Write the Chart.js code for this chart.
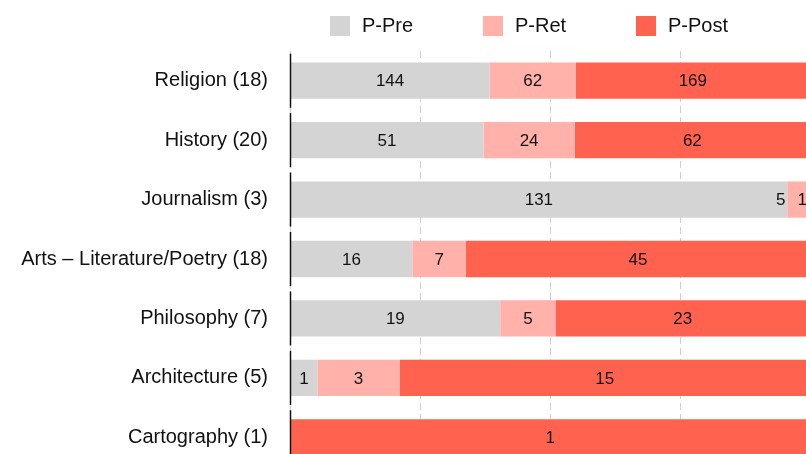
<!DOCTYPE html>
<html>
<head>
<meta charset="utf-8">
<script src="https://cdn.jsdelivr.net/npm/chart.js@4"></script>
<style>
  html, body { margin: 0; padding: 0; background: #fff; overflow: hidden; }
  #wrap { position: relative; width: 820px; height: 501px; }
  #legend { position: absolute; left: 330px; top: 14px; display: flex; font-family: "Liberation Sans", Arial, Helvetica, sans-serif; font-size: 20px; color: #111; }
  .item { display: flex; align-items: center; width: 153px; }
  .box { width: 20px; height: 20px; margin-right: 12px; }
</style>
</head>
<body>
<div id="wrap">
  <canvas id="c" width="820" height="501"></canvas>
  <div id="legend"></div>
</div>
<script>
const categories = ['Religion (18)', 'History (20)', 'Journalism (3)', 'Arts \u2013 Literature/Poetry (18)', 'Philosophy (7)', 'Architecture (5)', 'Cartography (1)'];
const seriesNames = ['P-Pre', 'P-Ret', 'P-Post'];
const pPre  = [144, 51, 131, 16, 19, 1, 0];
const pRet  = [62, 24, 5, 7, 5, 3, 0];
const pPost = [169, 62, 1, 45, 23, 15, 1];
const colors = ['#d4d4d4', '#ffb1aa', '#ff6350'];
const xTicks = [0, 25, 50, 75, 100];

const FONT = '"Liberation Sans", Arial, Helvetica, sans-serif';
const counts = [pPre, pRet, pPost];
const totals = categories.map((_, i) => counts.reduce((s, arr) => s + arr[i], 0));
const shares = counts.map(arr => arr.map((v, i) => v / totals[i] * 100));

// HTML legend
const lg = document.getElementById('legend');
seriesNames.forEach((n, k) => {
  const it = document.createElement('div'); it.className = 'item';
  const b = document.createElement('div'); b.className = 'box'; b.style.background = colors[k];
  const t = document.createElement('span'); t.textContent = n;
  it.appendChild(b); it.appendChild(t); lg.appendChild(it);
});

const axisSegments = {
  id: 'axisSegments',
  afterDatasetsDraw(chart) {
    const ctx = chart.ctx, y = chart.scales.y, x0 = chart.chartArea.left;
    const step = y.getPixelForValue(1) - y.getPixelForValue(0);
    ctx.save();
    ctx.strokeStyle = '#111'; ctx.lineWidth = 1.5;
    categories.forEach((_, i) => {
      const c = y.getPixelForValue(i);
      ctx.beginPath();
      ctx.moveTo(x0 + 0.5, c - step * 0.455);
      ctx.lineTo(x0 + 0.5, c + step * 0.455);
      ctx.stroke();
    });
    ctx.restore();
  }
};

const segLabels = {
  id: 'segLabels',
  afterDatasetsDraw(chart) {
    const ctx = chart.ctx;
    ctx.save();
    ctx.font = '17px ' + FONT;
    ctx.fillStyle = '#111';
    ctx.textBaseline = 'middle';
    ctx.textAlign = 'left';
    const visibleRight = 807;
    categories.forEach((_, i) => {
      const labs = [];
      counts.forEach((arr, k) => {
        if (!arr[i]) return;
        const el = chart.getDatasetMeta(k).data[i];
        const txt = String(arr[i]);
        const w = ctx.measureText(txt).width;
        const cx = (el.x + el.base) / 2;
        labs.push({ txt, w, left: cx - w / 2, y: el.y });
      });
      for (let j = labs.length - 1; j >= 0; j--) {
        const L = labs[j];
        const limit = (j === labs.length - 1) ? visibleRight : labs[j + 1].left - 12;
        if (L.left + L.w > limit) L.left = limit - L.w;
      }
      labs.forEach(L => ctx.fillText(L.txt, L.left, L.y + 1));
    });
    ctx.restore();
  }
};

new Chart(document.getElementById('c'), {
  type: 'bar',
  data: {
    labels: categories,
    datasets: seriesNames.map((n, k) => ({
      label: n,
      data: shares[k],
      backgroundColor: colors[k],
      borderWidth: 0,
      barPercentage: 0.61,
      categoryPercentage: 1
    }))
  },
  options: {
    indexAxis: 'y',
    responsive: false,
    animation: false,
    layout: { padding: { left: 0, right: 10, top: 51, bottom: 15 } },
    plugins: { legend: { display: false }, tooltip: { enabled: false } },
    scales: {
      x: {
        stacked: true, min: 0, max: 100,
        afterBuildTicks: s => { s.ticks = xTicks.map(v => ({ value: v })); },
        ticks: { display: false },
        border: { display: false, dash: [7, 4] },
        grid: { color: '#cfcfcf', lineWidth: 1, drawTicks: false }
      },
      y: {
        stacked: true,
        afterFit: s => { s.width = 290; },
        ticks: { padding: 22, color: '#111', font: { family: FONT, size: 20 } },
        grid: { display: false, drawTicks: false },
        border: { display: false }
      }
    }
  },
  plugins: [axisSegments, segLabels]
});
</script>
</body>
</html>
